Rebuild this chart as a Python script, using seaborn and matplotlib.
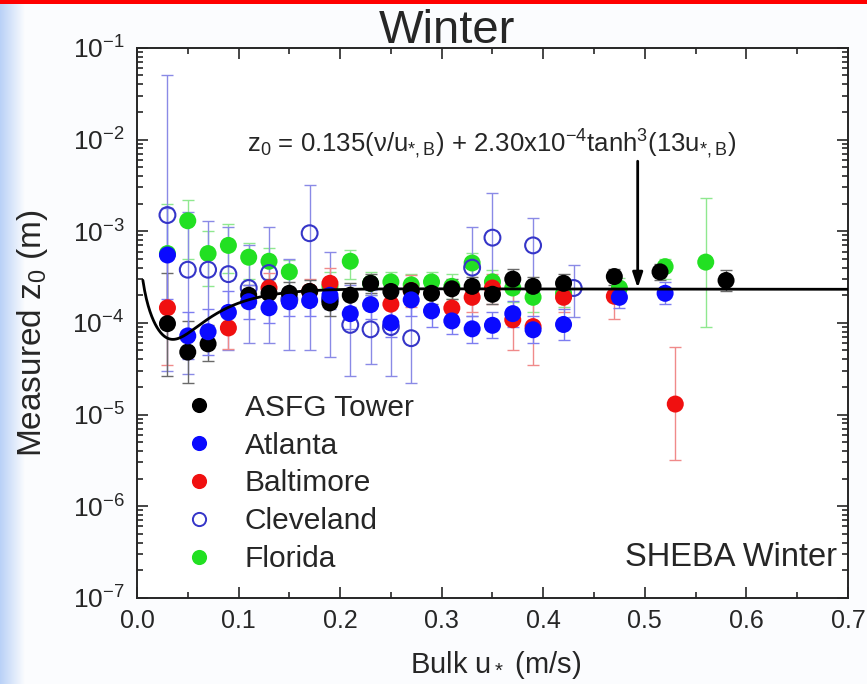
import numpy as np
import pandas as pd
import matplotlib
matplotlib.use("Agg")
import matplotlib.pyplot as plt
import seaborn as sns
from matplotlib.ticker import LogLocator, LogFormatterMathtext, MultipleLocator, NullFormatter
from matplotlib.colors import LinearSegmentedColormap
from matplotlib.lines import Line2D

# ---------------- data ----------------
# ASFG Tower
asfg_u = [0.03, 0.05, 0.07, 0.11, 0.13, 0.15, 0.17, 0.19, 0.21, 0.23, 0.25, 0.27,
          0.29, 0.31, 0.33, 0.35, 0.37, 0.39, 0.42, 0.47, 0.515, 0.58]
asfg_z = [9.8e-5, 4.8e-5, 5.9e-5, 2.0e-4, 2.1e-4, 2.1e-4, 2.2e-4, 1.65e-4, 2.0e-4, 2.7e-4, 2.2e-4, 2.25e-4,
          2.1e-4, 2.35e-4, 2.5e-4, 2.05e-4, 3.0e-4, 2.5e-4, 2.7e-4, 3.2e-4, 3.6e-4, 2.9e-4]
asfg_lo = [2.6e-5, 2.2e-5, 3.8e-5, 1.5e-4, 1.5e-4, 1.6e-4, 1.7e-4, 1.2e-4, 1.5e-4, 2.1e-4, 1.6e-4, 1.7e-4,
           1.6e-4, 1.8e-4, 1.9e-4, 1.6e-4, 2.3e-4, 1.9e-4, 2.1e-4, 2.6e-4, 2.9e-4, 2.2e-4]
asfg_hi = [3.5e-4, 1.05e-4, 9.5e-5, 2.6e-4, 3.0e-4, 2.8e-4, 2.9e-4, 2.4e-4, 2.7e-4, 3.4e-4, 3.0e-4, 2.9e-4,
           2.8e-4, 3.0e-4, 3.2e-4, 2.7e-4, 3.9e-4, 3.2e-4, 3.4e-4, 3.9e-4, 4.4e-4, 3.8e-4]

# Atlanta
atl_u = [0.03, 0.05, 0.07, 0.09, 0.11, 0.13, 0.15, 0.17, 0.19, 0.21, 0.23, 0.25,
         0.27, 0.29, 0.31, 0.33, 0.35, 0.37, 0.39, 0.42, 0.475, 0.52]
atl_z = [5.5e-4, 7.2e-5, 8.0e-5, 1.3e-4, 1.7e-4, 1.46e-4, 1.7e-4, 1.75e-4, 2.0e-4, 1.26e-4, 1.58e-4, 1.0e-4,
         1.78e-4, 1.35e-4, 1.05e-4, 8.6e-5, 9.4e-5, 1.26e-4, 8.4e-5, 9.6e-5, 1.9e-4, 2.1e-4]
atl_lo = [1.8e-4, 4.0e-5, 4.5e-5, 8.0e-5, 1.1e-4, 1.0e-4, 1.2e-4, 1.2e-4, 1.4e-4, 8.5e-5, 1.1e-4, 7.0e-5,
          1.2e-4, 9.0e-5, 7.5e-5, 6.0e-5, 6.8e-5, 9.0e-5, 6.0e-5, 6.5e-5, 1.45e-4, 1.6e-4]
atl_hi = [1.8e-3, 1.3e-4, 1.4e-4, 2.2e-4, 2.6e-4, 2.1e-4, 2.4e-4, 2.5e-4, 2.8e-4, 1.9e-4, 2.3e-4, 1.45e-4,
          2.6e-4, 2.0e-4, 1.5e-4, 1.2e-4, 1.3e-4, 1.75e-4, 1.2e-4, 1.4e-4, 2.5e-4, 2.8e-4]

# Baltimore
bal_u = [0.03, 0.09, 0.13, 0.17, 0.19, 0.25, 0.27, 0.31, 0.33, 0.35, 0.37, 0.39, 0.42, 0.47, 0.53]
bal_z = [1.46e-4, 8.8e-5, 2.4e-4, 2.2e-4, 2.7e-4, 1.6e-4, 2.25e-4, 1.45e-4, 1.9e-4, 2.4e-4, 1.08e-4, 9.1e-5,
         1.9e-4, 1.95e-4, 1.3e-5]
bal_lo = [3.5e-5, 5.2e-5, 1.6e-4, 1.6e-4, 1.8e-4, 1.1e-4, 1.5e-4, 1.0e-4, 1.3e-4, 1.6e-4, 5.0e-5, 3.5e-5,
          1.3e-4, 1.1e-4, 3.2e-6]
bal_hi = [6.0e-4, 1.5e-4, 3.5e-4, 3.0e-4, 4.0e-4, 2.3e-4, 3.3e-4, 2.1e-4, 2.8e-4, 3.4e-4, 2.1e-4, 1.8e-4,
          2.8e-4, 3.5e-4, 5.5e-5]

# Cleveland
cle_u = [0.03, 0.05, 0.07, 0.09, 0.11, 0.13, 0.15, 0.17, 0.19, 0.21, 0.23, 0.25, 0.27,
         0.33, 0.35, 0.39, 0.43]
cle_z = [1.5e-3, 3.8e-4, 3.8e-4, 3.4e-4, 2.4e-4, 3.5e-4, 1.8e-4, 9.5e-4, 1.8e-4, 9.5e-5, 8.5e-5, 9.0e-5, 6.8e-5,
         4.0e-4, 8.5e-4, 7.0e-4, 2.4e-4]
cle_lo = [3.0e-5, 2.8e-5, 6.0e-5, 5.0e-5, 6.0e-5, 6.0e-5, 5.0e-5, 5.0e-5, 4.2e-5, 2.6e-5, 3.6e-5, 2.6e-5, 2.2e-5,
          1.2e-4, 2.0e-4, 2.5e-4, 1.15e-4]
cle_hi = [5.0e-2, 1.6e-3, 1.3e-3, 1.1e-3, 7.0e-4, 1.1e-3, 5.0e-4, 3.2e-3, 6.0e-4, 2.6e-4, 2.0e-4, 2.0e-4, 2.0e-4,
          1.1e-3, 2.6e-3, 1.4e-3, 4.3e-4]

# Florida
fla_u = [0.03, 0.05, 0.07, 0.09, 0.11, 0.13, 0.15, 0.19, 0.21, 0.23, 0.25, 0.27,
         0.29, 0.31, 0.33, 0.35, 0.37, 0.39, 0.42, 0.475, 0.52, 0.56]
fla_z = [5.7e-4, 1.3e-3, 5.7e-4, 7.0e-4, 5.2e-4, 4.7e-4, 3.6e-4, 2.5e-4, 4.7e-4, 2.7e-4, 2.8e-4, 2.6e-4,
         2.8e-4, 2.5e-4, 4.5e-4, 2.8e-4, 2.4e-4, 1.9e-4, 2.1e-4, 2.4e-4, 4.1e-4, 4.6e-4]
fla_lo = [1.5e-4, 5.0e-4, 2.5e-4, 3.5e-4, 3.0e-4, 2.8e-4, 2.3e-4, 1.7e-4, 3.0e-4, 2.0e-4, 2.0e-4, 1.8e-4,
          2.0e-4, 1.8e-4, 2.9e-4, 1.9e-4, 1.7e-4, 1.3e-4, 1.5e-4, 1.9e-4, 3.0e-4, 9.0e-5]
fla_hi = [2.0e-3, 2.2e-3, 1.0e-3, 1.2e-3, 7.5e-4, 6.5e-4, 4.8e-4, 3.6e-4, 6.2e-4, 3.6e-4, 3.6e-4, 3.4e-4,
          3.6e-4, 3.4e-4, 5.8e-4, 3.8e-4, 3.4e-4, 2.8e-4, 3.0e-4, 3.1e-4, 5.0e-4, 2.3e-3]

site_names = ["ASFG Tower", "Atlanta", "Baltimore", "Cleveland", "Florida"]

# Fitted roughness relation: z0 = 0.135 (nu/u*) + 2.30e-4 tanh^3(13 u*)
nu_air = 1.25e-5
coef_smooth = 0.135
z0_rough = 2.30e-4
tanh_scale = 13.0
u_curve_start, u_curve_end = 0.0058, 0.7

# ---------------- styling ----------------
sns.set_style("ticks")
plt.rcParams["font.family"] = ["Liberation Sans", "DejaVu Sans"]
plt.rcParams["mathtext.fontset"] = "custom"
plt.rcParams["mathtext.rm"] = "Liberation Sans"
plt.rcParams["mathtext.it"] = "Liberation Sans"
plt.rcParams["mathtext.bf"] = "Liberation Sans:bold"

fig = plt.figure(figsize=(8.67, 6.84), dpi=100)
fig.patch.set_facecolor("#fbfcfe")

# slide-style decorations: left blue gradient strip and top red rule
grad_ax = fig.add_axes([0, 0, 0.028, 1])
grad = np.linspace(0, 1, 64)[None, :]
cmap_strip = LinearSegmentedColormap.from_list("strip", ["#b9d1f7", "#fbfcfe"])
grad_ax.imshow(grad, aspect="auto", cmap=cmap_strip, extent=[0, 1, 0, 1])
grad_ax.set_axis_off()
fig.add_artist(plt.Rectangle((0, 0.994), 1, 0.006, transform=fig.transFigure,
                             color="#ff0000", lw=0, zorder=5))

ax = fig.add_axes([0.158, 0.126, 0.820, 0.804])
ax.set_facecolor("white")

series = [
    # name, u, z, lo, hi, face, edge, bar colour, filled
    ("Florida", fla_u, fla_z, fla_lo, fla_hi, "#22e022", "#22e022", "#8fe88f", True),
    ("Cleveland", cle_u, cle_z, cle_lo, cle_hi, "none", "#3535c8", "#8a8ae6", False),
    ("Baltimore", bal_u, bal_z, bal_lo, bal_hi, "#f01010", "#f01010", "#f08a8a", True),
    ("ASFG Tower", asfg_u, asfg_z, asfg_lo, asfg_hi, "#000000", "#000000", "#6a6a6a", True),
    ("Atlanta", atl_u, atl_z, atl_lo, atl_hi, "#0a0aff", "#0a0aff", "#7d7df0", True),
]

for k, (name, u, z, lo, hi, face, edge, barc, filled) in enumerate(series):
    u = np.asarray(u); z = np.asarray(z); lo = np.asarray(lo); hi = np.asarray(hi)
    ax.errorbar(u, z, yerr=[z - lo, hi - z], fmt="none", ecolor=barc,
                elinewidth=1.0, capsize=4.5, capthick=1.0, zorder=2 + k)
    df = pd.DataFrame({"u": u, "z0": z})
    if filled:
        sns.scatterplot(data=df, x="u", y="z0", ax=ax, color=face, s=150,
                        edgecolor="none", linewidth=0, zorder=10 + k, legend=False)
    else:
        sns.scatterplot(data=df, x="u", y="z0", ax=ax, s=130, facecolor="none",
                        edgecolor=edge, linewidth=1.5, zorder=10 + k, legend=False)

# model curve
u_fit = np.linspace(u_curve_start, u_curve_end, 400)
z_fit = coef_smooth * nu_air / u_fit + z0_rough * np.tanh(tanh_scale * u_fit) ** 3
sns.lineplot(x=u_fit, y=z_fit, ax=ax, color="black", lw=2.0, zorder=20, sort=False)

ax.set_yscale("log")
ax.set_xlim(0, 0.7)
ax.set_ylim(1e-7, 1e-1)

ax.xaxis.set_major_locator(MultipleLocator(0.1))
ax.xaxis.set_minor_locator(MultipleLocator(0.05))
ax.xaxis.set_major_formatter(matplotlib.ticker.FormatStrFormatter("%.1f"))
ax.yaxis.set_major_locator(LogLocator(base=10, numticks=10))
ax.yaxis.set_minor_locator(LogLocator(base=10, subs=np.arange(2, 10), numticks=100))
ax.yaxis.set_major_formatter(LogFormatterMathtext())
ax.yaxis.set_minor_formatter(NullFormatter())
ax.tick_params(which="both", direction="in", top=True, right=True, width=1.2)
ax.tick_params(axis="x", labelsize=18, pad=8)
ax.tick_params(axis="y", labelsize=19, pad=9)
ax.tick_params(which="major", length=8)
ax.tick_params(which="minor", length=4)
for sp in ax.spines.values():
    sp.set_linewidth(1.4)
    sp.set_visible(True)

ax.set_xlabel(r"Bulk u$_*$ (m/s)", fontsize=21)
ax.set_ylabel(r"Measured z$_0$ (m)", fontsize=24)
ax.xaxis.set_label_coords(0.504, -0.093)
ax.yaxis.set_label_coords(-0.123, 0.482)

fig.text(0.516, 0.955, "Winter", fontsize=34, ha="center", va="center")

ax.text(0.155, 0.824,
        r"z$_0$ = 0.135($\nu$/u$_{*,B}$) + 2.30x10$^{-4}$tanh$^3$(13u$_{*,B}$)",
        transform=ax.transAxes, fontsize=18.5, ha="left", va="center", zorder=30)

# arrow pointing to the curve plateau
ax.annotate("", xy=(0.493, 2.4e-4), xytext=(0.493, 5.8e-3),
            arrowprops=dict(arrowstyle="-|>,head_length=0.9,head_width=0.3",
                            color="black", lw=2.0, shrinkA=0, shrinkB=0), zorder=30)

ax.text(0.985, 0.073, "SHEBA Winter", transform=ax.transAxes, fontsize=23.5,
        ha="right", va="center")

# legend
legend_style = {
    "ASFG Tower": dict(color="#000000", mfc="#000000"),
    "Atlanta": dict(color="#0a0aff", mfc="#0a0aff"),
    "Baltimore": dict(color="#f01010", mfc="#f01010"),
    "Cleveland": dict(color="#3535c8", mfc="none"),
    "Florida": dict(color="#22e022", mfc="#22e022"),
}
handles = [Line2D([], [], ls="none", marker="o", ms=9.5, mew=1.4,
                  mec=legend_style[n]["color"], mfc=legend_style[n]["mfc"], label=n)
           for n in site_names]
ax.legend(handles=handles, loc="lower left", bbox_to_anchor=(0.066, 0.045),
          frameon=False, fontsize=21.5, handlelength=1.0, handletextpad=1.04,
          labelspacing=0.33, borderpad=0, borderaxespad=0)

fig.savefig("out.png", dpi=100, facecolor=fig.get_facecolor())
